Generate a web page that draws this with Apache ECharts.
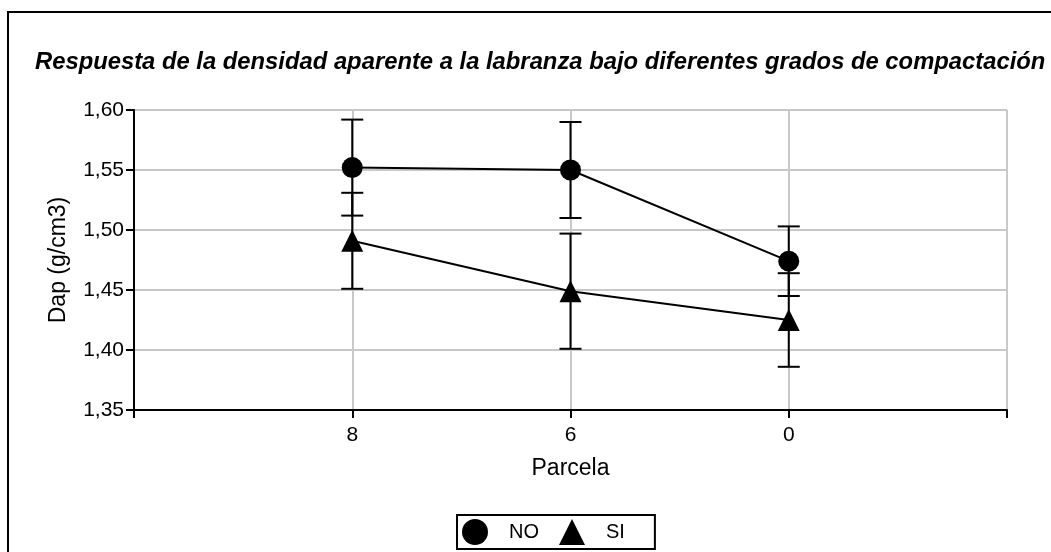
<!DOCTYPE html>
<html>
<head>
<meta charset="utf-8">
<script src="https://cdn.jsdelivr.net/npm/echarts@6/dist/echarts.min.js"></script>
<style>html,body{margin:0;padding:0;background:#fff;}#c{width:1051px;height:552px;}</style>
</head>
<body>
<div id="c"></div>
<script>
var categories = ['8', '6', '0'];
var noValues = [1.552, 1.550, 1.474];
var noErr = [0.040, 0.040, 0.029];
var siValues = [1.491, 1.449, 1.425];
var siErr = [0.040, 0.048, 0.039];
var yTicks = [1.35, 1.40, 1.45, 1.50, 1.55, 1.60];

function pts(vals) { return vals.map(function (v, i) { return [i + 1, v]; }); }
function errData(vals, errs) { return vals.map(function (v, i) { return [i + 1, v - errs[i], v + errs[i]]; }); }

function renderErr(params, api) {
  var x = api.value(0);
  var lo = api.coord([x, api.value(1)]);
  var hi = api.coord([x, api.value(2)]);
  var hw = 11;
  var st = { stroke: '#000', lineWidth: 2 };
  return {
    type: 'group',
    children: [
      { type: 'line', shape: { x1: lo[0], y1: lo[1], x2: hi[0], y2: hi[1] }, style: st },
      { type: 'line', shape: { x1: lo[0] - hw, y1: lo[1], x2: lo[0] + hw, y2: lo[1] }, style: st },
      { type: 'line', shape: { x1: hi[0] - hw, y1: hi[1], x2: hi[0] + hw, y2: hi[1] }, style: st }
    ]
  };
}

var chart = echarts.init(document.getElementById('c'), null, { renderer: 'canvas' });
var font = 'Liberation Sans, Arial, sans-serif';
chart.setOption({
  animation: false,
  backgroundColor: '#fff',
  title: {
    text: 'Respuesta de la densidad aparente a la labranza bajo diferentes grados de compactación',
    left: 30, top: 45,
    textStyle: { fontFamily: font, fontSize: 23.8, fontWeight: 'bold', fontStyle: 'italic', color: '#000' }
  },
  graphic: [{
    type: 'rect', silent: true, z: 100,
    shape: { x: 8, y: 12, width: 1100, height: 600 },
    style: { fill: 'none', stroke: '#000', lineWidth: 2 }
  }],
  legend: {
    left: 457, top: 515,
    orient: 'horizontal',
    data: [{ name: 'NO', icon: 'circle' }, { name: 'SI', icon: 'triangle' }],
    itemWidth: 26, itemHeight: 26, itemGap: 20,
    padding: [4, 30, 4, 5],
    borderColor: '#000', borderWidth: 2,
    textStyle: { fontFamily: font, fontSize: 20, color: '#000', padding: [0, 0, 0, 16] }
  },
  grid: { left: 134, right: 44, top: 110, bottom: 142, containLabel: false },
  xAxis: {
    type: 'value', min: 0, max: 4, interval: 1,
    name: 'Parcela', nameLocation: 'middle', nameGap: 47,
    nameTextStyle: { fontFamily: font, fontSize: 23, color: '#000' },
    axisLine: { show: true, lineStyle: { color: '#000', width: 2 } },
    axisTick: { show: true, length: 8, lineStyle: { color: '#000', width: 2 } },
    axisLabel: {
      fontFamily: font, fontSize: 21, color: '#000', margin: 15,
      formatter: function (v) { return (v >= 1 && v <= categories.length) ? categories[v - 1] : ''; }
    },
    splitLine: { show: true, lineStyle: { color: '#c8c8c8', width: 2 } }
  },
  yAxis: {
    type: 'value', min: yTicks[0], max: yTicks[yTicks.length - 1], interval: 0.05,
    name: 'Dap (g/cm3)', nameLocation: 'middle', nameGap: 64, nameRotate: 90,
    nameTextStyle: { fontFamily: font, fontSize: 23, color: '#000' },
    axisLine: { show: true, lineStyle: { color: '#000', width: 2 } },
    axisTick: { show: true, length: 8, lineStyle: { color: '#000', width: 2 } },
    axisLabel: {
      fontFamily: font, fontSize: 21, color: '#000', margin: 10,
      formatter: function (v) { return v.toFixed(2).replace('.', ','); }
    },
    splitLine: { show: true, lineStyle: { color: '#c8c8c8', width: 2 } }
  },
  series: [
    { type: 'custom', name: 'errNO', renderItem: renderErr, data: errData(noValues, noErr), z: 2, silent: true },
    { type: 'custom', name: 'errSI', renderItem: renderErr, data: errData(siValues, siErr), z: 2, silent: true },
    {
      type: 'line', name: 'NO', data: pts(noValues), z: 3,
      symbol: 'circle', symbolSize: 21,
      lineStyle: { color: '#000', width: 2 },
      itemStyle: { color: '#000' }
    },
    {
      type: 'line', name: 'SI', data: pts(siValues), z: 3,
      symbol: 'triangle', symbolSize: 22,
      lineStyle: { color: '#000', width: 2 },
      itemStyle: { color: '#000' }
    }
  ]
});
</script>
</body>
</html>
